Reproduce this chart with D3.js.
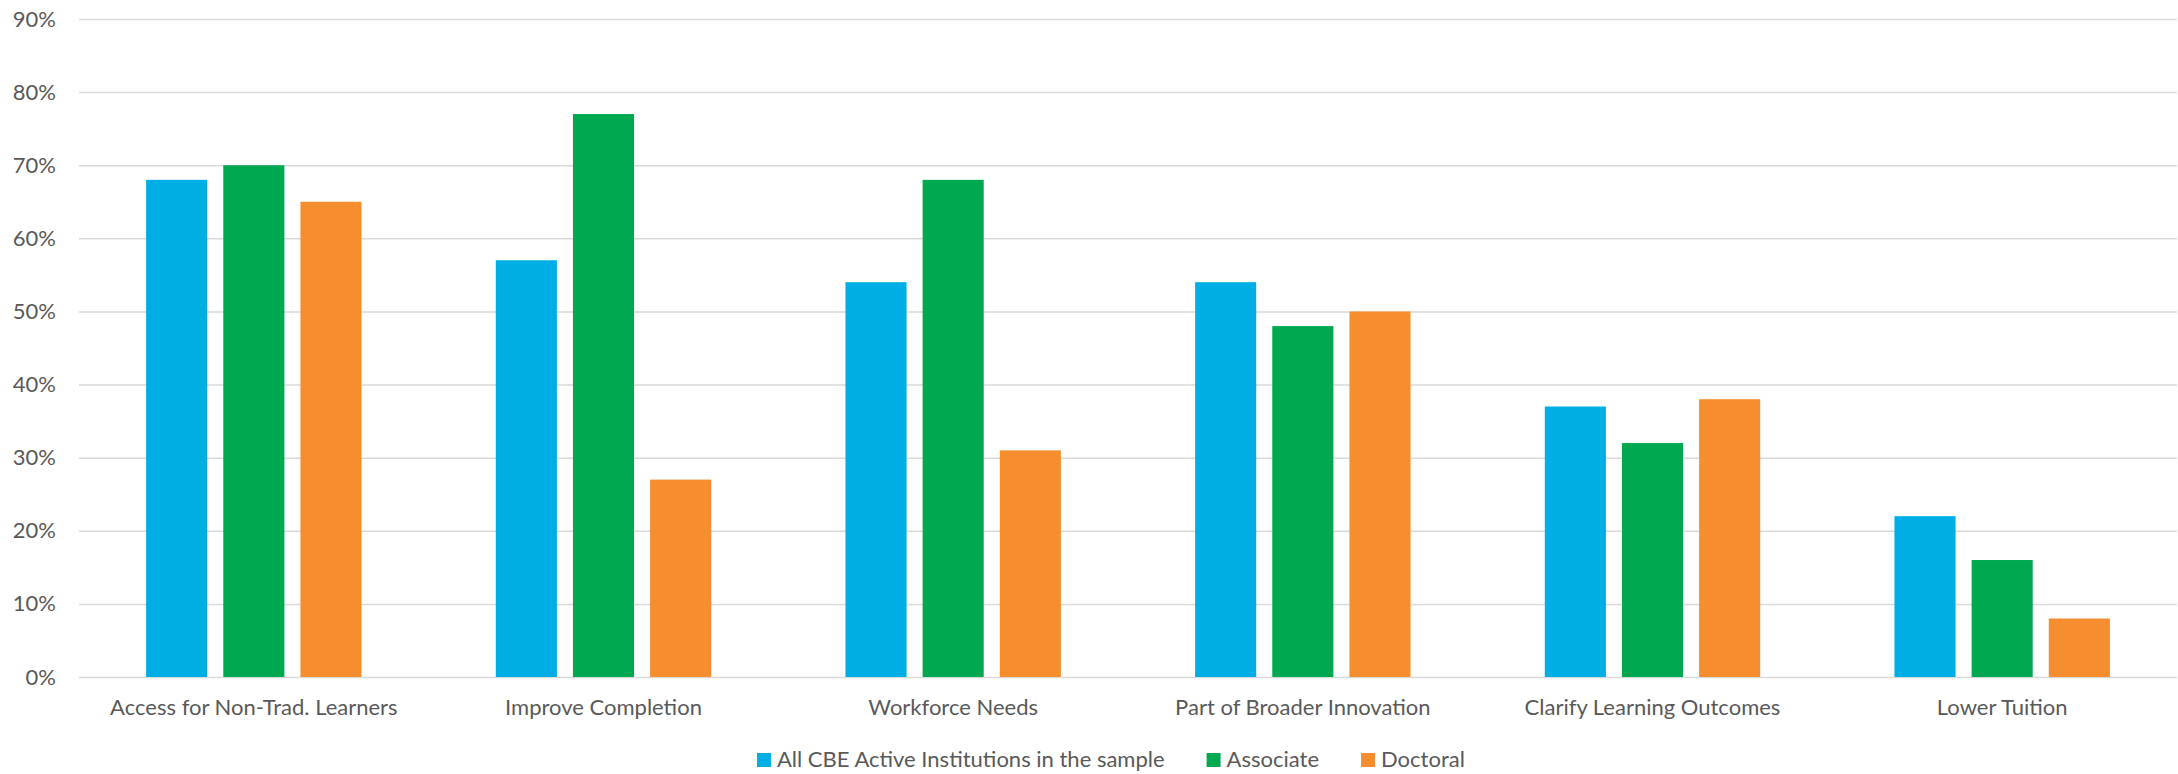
<!DOCTYPE html>
<html>
<head>
<meta charset="utf-8">
<script src="https://cdn.jsdelivr.net/npm/d3@7"></script>
<style>
  html, body { margin: 0; padding: 0; background: #fff; }
  svg { display: block; }
  text { font-family: Lato, "Open Sans", sans-serif; fill: #595959; }
</style>
</head>
<body>
<div id="chart"></div>
<script>
// Reasons institutions give for adopting competency-based education
const categories = [
  "Access for Non-Trad. Learners",
  "Improve Completion",
  "Workforce Needs",
  "Part of Broader Innovation",
  "Clarify Learning Outcomes",
  "Lower Tuition"
];
const seriesNames = ["All CBE Active Institutions in the sample", "Associate", "Doctoral"];
const allInstitutions = [68, 57, 54, 54, 37, 22];
const associate = [70, 77, 68, 48, 32, 16];
const doctoral = [65, 27, 31, 50, 38, 8];
const seriesColors = ["#00AEE6", "#00A94F", "#F68D2E"];
const yTicks = [0, 10, 20, 30, 40, 50, 60, 70, 80, 90];

const width = 2178, height = 774;
const margin = { top: 19, right: 1, bottom: 97, left: 79 };

const svg = d3.select("#chart").append("svg")
  .attr("width", width)
  .attr("height", height);

const x0 = d3.scaleBand()
  .domain(categories)
  .range([margin.left, width - margin.right])
  .paddingInner(0)
  .paddingOuter(0);

const x1 = d3.scaleBand()
  .domain(seriesNames)
  .range([0, x0.bandwidth()])
  .paddingInner(0.208)
  .paddingOuter(0.87);

const y = d3.scaleLinear()
  .domain([0, 90])
  .range([height - margin.bottom, margin.top]);

// Horizontal gridlines with percentage labels
const yAxis = d3.axisLeft(y)
  .tickValues(yTicks)
  .tickSize(-(width - margin.left - margin.right))
  .tickPadding(23)
  .tickFormat(d => d + "%");

const gy = svg.append("g")
  .attr("transform", `translate(${margin.left},0)`)
  .call(yAxis);
gy.select(".domain").remove();
gy.selectAll(".tick line")
  .attr("stroke", "#d9d9d9")
  .attr("stroke-width", 1.5);
gy.selectAll(".tick text")
  .style("font-size", "22px")
  .attr("fill", "#595959");

// Grouped bars
const series = [allInstitutions, associate, doctoral];
const rows = categories.map((c, i) => ({
  category: c,
  values: seriesNames.map((s, j) => ({ series: s, value: series[j][i], color: seriesColors[j] }))
}));

const groups = svg.append("g")
  .selectAll("g")
  .data(rows)
  .join("g")
  .attr("transform", d => `translate(${x0(d.category)},0)`);

groups.selectAll("rect")
  .data(d => d.values)
  .join("rect")
  .attr("x", d => x1(d.series))
  .attr("width", x1.bandwidth())
  .attr("y", d => y(d.value))
  .attr("height", d => y(0) - y(d.value))
  .attr("fill", d => d.color);

// Category labels
const xAxis = d3.axisBottom(x0).tickSize(0).tickPadding(22);
const gx = svg.append("g")
  .attr("transform", `translate(0,${y(0)})`)
  .call(xAxis);
gx.select(".domain").remove();
gx.selectAll(".tick text")
  .style("font-size", "22px")
  .attr("fill", "#595959");

// Legend
const legend = svg.append("g").attr("transform", "translate(757,759)");
let lx = 0;
seriesNames.forEach((name, i) => {
  const item = legend.append("g").attr("transform", `translate(${lx},0)`);
  item.append("rect")
    .attr("x", 0).attr("y", -6)
    .attr("width", 14).attr("height", 14)
    .attr("fill", seriesColors[i]);
  const t = item.append("text")
    .attr("x", 20).attr("y", 0)
    .attr("dy", "0.35em")
    .style("font-size", "22px")
    .text(name);
  lx += 20 + t.node().getComputedTextLength() + 42;
});
</script>
</body>
</html>
